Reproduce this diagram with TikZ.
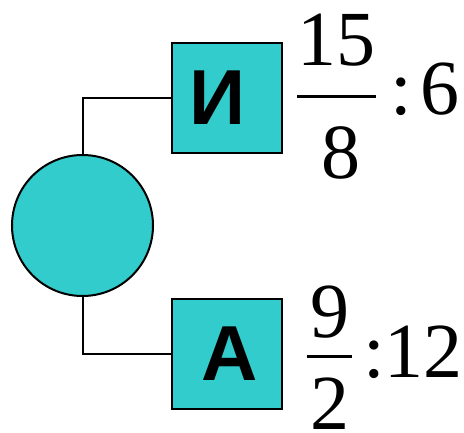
\documentclass[tikz,border=0pt]{standalone}
\usepackage{fontspec}
\setmainfont{Liberation Serif}
\newfontfamily\cyrfont{Liberation Sans}
\definecolor{teal}{RGB}{51,204,204}
\begin{document}
\begin{tikzpicture}[
    x=1pt, y=-1pt,
    circ/.style={circle, draw, line width=2pt, fill=teal, minimum size=141pt, inner sep=0pt},
    box/.style={rectangle, draw, line width=2pt, fill=teal, minimum size=110pt, inner sep=0pt,
        font=\cyrfont\bfseries\fontsize{78}{78}\selectfont},
    num/.style={inner sep=0pt, anchor=base, font=\fontsize{78}{78}\selectfont},
    val/.style={inner sep=0pt, anchor=base west, font=\fontsize{78}{78}\selectfont},
    link/.style={line width=2pt},
    bar/.style={line width=3pt}
]
\useasboundingbox (0,0) rectangle (464,432);
\node[circ] (root) at (82.5,225.5) {};
\node[box] (ibox) at (227,98) {\kern-18ptИ};
\node[box] (abox) at (227,353.5) {\kern6ptА};

\draw[link] (root.north) |- (ibox.west);
\draw[link] (root.south) |- (abox.west);

% first fraction
\node[num] (inum) at (336,65) {15};
\node[num] (iden) at (341,178) {8};
\draw[bar] (297,96) -- (376,96);
\node[val] (ival) at (390,114) {:\kern9pt6};

% second fraction
\node[num] (anum) at (330,337) {9};
\node[num] (aden) at (330,429) {2};
\draw[bar] (307,356) -- (352,356);
\node[val] (aval) at (363,377) {:12};
\end{tikzpicture}
\end{document}
